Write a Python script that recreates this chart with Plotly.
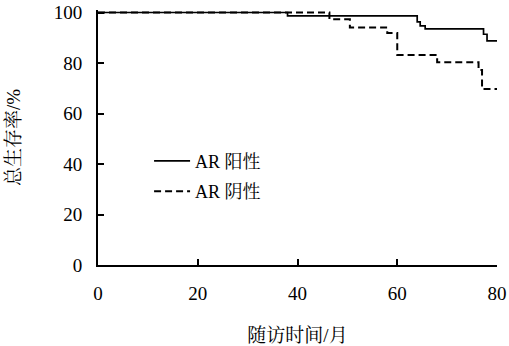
import plotly.graph_objects as go

# Kaplan-Meier style step data (months, % survival)
pos_time = [0, 38, 64, 64.6, 65.6, 77.3, 78, 80]
pos_surv = [100, 98.7, 96.3, 94.7, 93.5, 91.4, 88.8, 88.8]

neg_time = [0, 46.4, 50.5, 58, 60, 68, 76.3, 77, 80]
neg_surv = [100, 97.3, 94.1, 91.9, 83.2, 80.3, 77.2, 69.7, 69.7]

x_ticks = [0, 20, 40, 60, 80]
y_ticks = [0, 20, 40, 60, 80, 100]

FONT = "Liberation Serif, 'Noto Serif CJK SC', 'Noto Sans CJK SC', serif"

fig = go.Figure()
fig.add_trace(go.Scatter(x=pos_time, y=pos_surv, mode="lines", line_shape="hv",
                         line=dict(color="black", width=1.7),
                         name="AR 阳性", legendgroup="a"))
fig.add_trace(go.Scatter(x=neg_time, y=neg_surv, mode="lines", line_shape="hv",
                         line=dict(color="black", width=2, dash="7px,4px"),
                         name="AR 阴性", legendgroup="b"))

axis_common = dict(showline=True, linecolor="black", linewidth=2,
                   ticks="inside", ticklen=6, tickwidth=2, tickcolor="black",
                   showgrid=False, zeroline=False, automargin=False,
                   tickfont=dict(family=FONT, size=19, color="black"))

fig.update_layout(
    width=509, height=346,
    margin=dict(l=98, r=12, t=10, b=81),
    paper_bgcolor="white", plot_bgcolor="white",
    font=dict(family=FONT, size=19, color="black"),
    showlegend=True,
    legend=dict(x=0.128, y=0.48, xanchor="left", yanchor="top",
                bgcolor="rgba(0,0,0,0)", traceorder="grouped", tracegroupgap=4,
                itemwidth=36,
                font=dict(family=FONT, size=18, color="black")),
    xaxis=dict(range=[0, 80], tickvals=x_ticks, ticklabelstandoff=10,
               title=dict(text="随访时间/月", standoff=30,
                          font=dict(family=FONT, size=19, color="black")),
               **axis_common),
    yaxis=dict(range=[0, 101], tickvals=y_ticks, ticklabelstandoff=10,
               title=dict(text="总生存率/%", standoff=28,
                          font=dict(family=FONT, size=19, color="black")),
               **axis_common),
)

# remove the browser's default 8px body margin so the figure fills the window
fig.write_html("out.html", config={"displayModeBar": False},
               post_script="document.body.style.margin='0px';")
